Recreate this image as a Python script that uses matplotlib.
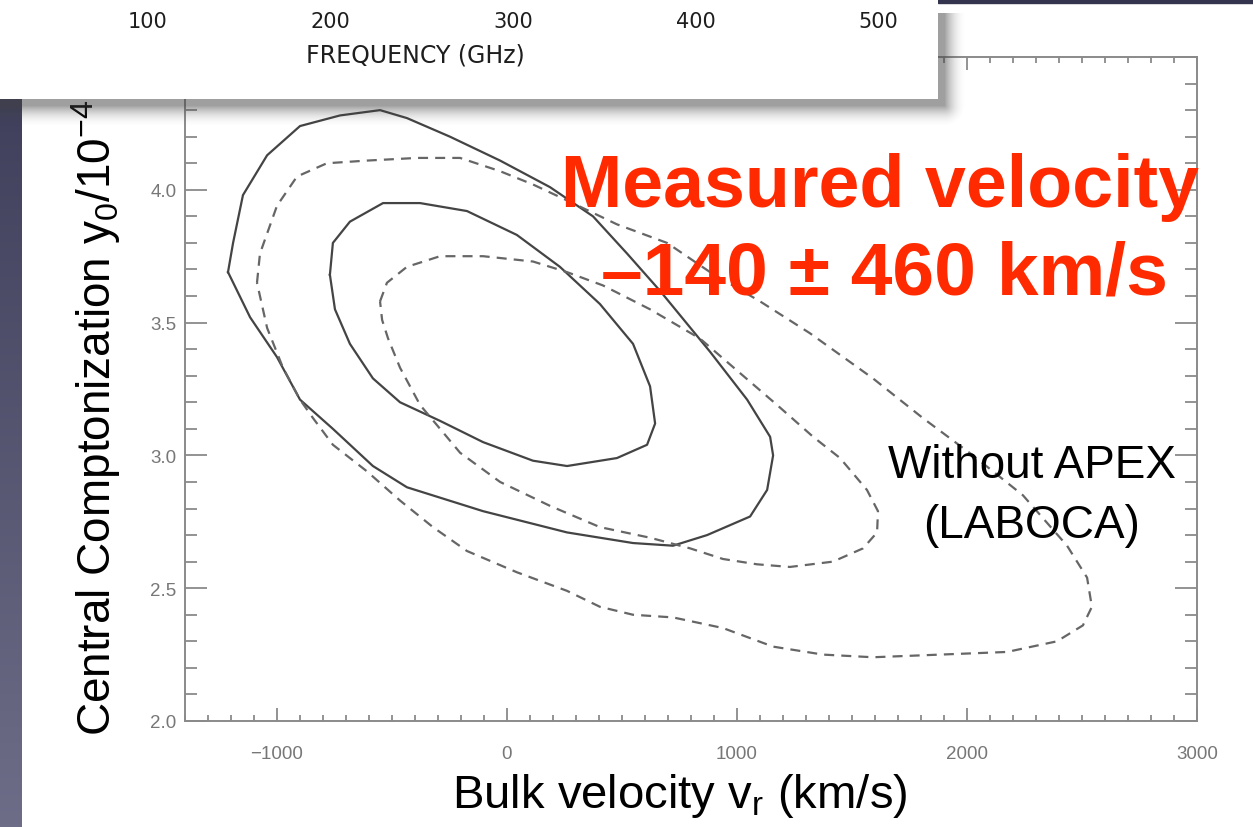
import numpy as np
import matplotlib
matplotlib.use("Agg")
import matplotlib.pyplot as plt
from matplotlib.ticker import MultipleLocator, FormatStrFormatter
from matplotlib.transforms import blended_transform_factory
from matplotlib.patches import Rectangle

plt.rcParams["font.family"] = ["Liberation Sans", "DejaVu Sans"]
plt.rcParams["mathtext.fontset"] = "custom"
plt.rcParams["mathtext.rm"] = "Liberation Sans"
plt.rcParams["mathtext.it"] = "Liberation Sans:italic"
plt.rcParams["mathtext.bf"] = "Liberation Sans:bold"

# contour paths: bulk velocity (km/s), y0 (1e-4)
inner_solid_v = [-770, -757, -683, -539, -378, -174, 43, 230, 404, 548, 622, 644,
                 609, 478, 261, 113, -104, -291, -465, -583, -683, -748]
inner_solid_y = [3.68, 3.80, 3.88, 3.95, 3.95, 3.92, 3.83, 3.71, 3.57, 3.42, 3.26, 3.12,
                 3.04, 2.99, 2.96, 2.98, 3.05, 3.13, 3.20, 3.29, 3.42, 3.55]

outer_solid_v = [-1213, -1191, -1148, -1043, -900, -726, -552, -435, -248, -30, 187, 374,
                 522, 665, 883, 1044, 1144, 1157, 1131, 1057, 870, 722, 548, 261, -104,
                 -435, -583, -757, -900, -1000, -1117]
outer_solid_y = [3.69, 3.80, 3.98, 4.13, 4.24, 4.28, 4.30, 4.27, 4.20, 4.11, 4.01, 3.90,
                 3.76, 3.62, 3.39, 3.21, 3.07, 3.00, 2.87, 2.77, 2.70, 2.66, 2.67, 2.71, 2.79,
                 2.88, 2.96, 3.10, 3.21, 3.37, 3.52]

inner_dash_v = [-552, -522, -435, -291, -104, 113, 261, 417, 622, 839, 1013, 1174, 1331,
                1448, 1565, 1613, 1609, 1548, 1417, 1230, 1087, 939, 796, 622, 404, 187,
                -30, -204, -291, -378, -465, -517, -543]
inner_dash_y = [3.58, 3.65, 3.71, 3.75, 3.75, 3.73, 3.69, 3.64, 3.55, 3.44, 3.31, 3.19, 3.07,
                2.99, 2.87, 2.79, 2.71, 2.65, 2.60, 2.58, 2.59, 2.61, 2.65, 2.69, 2.73, 2.81,
                2.90, 3.01, 3.10, 3.19, 3.33, 3.44, 3.51]

outer_dash_v = [-1087, -1074, -1000, -913, -783, -609, -391, -204, -30, 113, 261, 478, 696,
                883, 1100, 1317, 1591, 1809, 2026, 2243, 2435, 2522, 2543, 2504, 2391, 2174,
                1883, 1591, 1374, 1157, 939, 722, 548, 404, 261, 43, -174, -322, -465, -609,
                -757, -843, -900, -974, -1043]
outer_dash_y = [3.65, 3.76, 3.94, 4.05, 4.10, 4.11, 4.12, 4.12, 4.07, 4.02, 3.96, 3.87, 3.80,
                3.69, 3.58, 3.46, 3.29, 3.14, 3.00, 2.85, 2.66, 2.54, 2.43, 2.36, 2.30, 2.26,
                2.25, 2.24, 2.25, 2.28, 2.35, 2.39, 2.40, 2.43, 2.49, 2.56, 2.64, 2.73, 2.83,
                2.94, 3.04, 3.14, 3.21, 3.33, 3.48]

freq_ticks = [100, 200, 300, 400, 500]

W, H = 1253, 828
fig = plt.figure(figsize=(W / 100, H / 100), dpi=100)
fig.patch.set_facecolor("white")

# slide background strips
strip = fig.add_axes([0, 0, 22 / W, 1], zorder=-1)
grad = np.linspace(0, 1, 256).reshape(-1, 1)
strip.imshow(grad, aspect="auto", cmap=matplotlib.colors.LinearSegmentedColormap.from_list(
    "slide", ["#3a3a56", "#6d6d88"]), extent=[0, 1, 0, 1], origin="upper")
strip.axis("off")
fig.add_artist(Rectangle((938 / W, 1 - 4 / H), 1, 4 / H, transform=fig.transFigure,
                         color="#34344e", zorder=0))

# main contour panel
ax = fig.add_axes([185 / W, (H - 722) / H, 1012 / W, 664 / H], zorder=0)
ax.plot(np.append(outer_solid_v, outer_solid_v[0]), np.append(outer_solid_y, outer_solid_y[0]),
        color="#444444", lw=1.6)
ax.plot(np.append(inner_solid_v, inner_solid_v[0]), np.append(inner_solid_y, inner_solid_y[0]),
        color="#444444", lw=1.6)
ax.plot(np.append(outer_dash_v, outer_dash_v[0]), np.append(outer_dash_y, outer_dash_y[0]),
        color="#666666", lw=1.6, linestyle=(0, (4.5, 3.2)))
ax.plot(np.append(inner_dash_v, inner_dash_v[0]), np.append(inner_dash_y, inner_dash_y[0]),
        color="#666666", lw=1.6, linestyle=(0, (4.5, 3.2)))

ax.set_xlim(-1400, 3000)
ax.set_ylim(2.0, 4.5)
ax.xaxis.set_major_locator(MultipleLocator(1000))
ax.xaxis.set_minor_locator(MultipleLocator(100))
ax.yaxis.set_major_locator(MultipleLocator(0.5))
ax.yaxis.set_minor_locator(MultipleLocator(0.1))
ax.yaxis.set_major_formatter(FormatStrFormatter("%.1f"))
for s in ax.spines.values():
    s.set_color("#8a8a8a")
    s.set_linewidth(1.4)
ax.tick_params(which="both", direction="in", top=True, right=True, color="#808080",
               width=1.2, labelcolor="#777777", labelsize=13.5)
ax.tick_params(axis="x", which="major", length=9.5, pad=17)
ax.tick_params(axis="x", which="minor", length=4.5)
ax.tick_params(axis="y", which="major", length=16, pad=6)
ax.tick_params(axis="y", which="minor", length=8.5)

ax.set_xlabel(r"Bulk velocity v$_\mathrm{r}$ (km/s)", fontsize=34)
ax.xaxis.set_label_coords(0.489, -0.075)
ax.set_ylabel(r"Central Comptonization y$_\mathrm{0}$/10$^\mathrm{-4}$", fontsize=33)
ax.yaxis.set_label_coords(-0.061, 0.458)

# drop shadow of the pasted spectrum strip
sh = fig.add_axes([0, 0, 1, 1], zorder=1)
yy, xx = np.mgrid[0:H, 0:W]
dx = np.clip(xx - 944, 0, None)
dy = np.clip(yy - 106, 0, None)
d = np.hypot(dx, dy)
alpha = 0.5 * np.clip(1 - d / 22, 0, 1) ** 2
alpha[yy < 14] = 0
rgba = np.zeros((H, W, 4))
rgba[..., :3] = 0.25
rgba[..., 3] = alpha
sh.imshow(rgba, extent=[0, 1, 0, 1], aspect="auto", origin="upper")
sh.axis("off")

# pasted frequency axis strip
ins = fig.add_axes([0, 1 - 100 / H, 938 / W, 100 / H], zorder=3)
ins.set_facecolor("white")
ins.set_xlim(100 - 148 / 1.825, 100 + (938 - 148) / 1.825)
ins.set_ylim(0, 1)
for s in ins.spines.values():
    s.set_visible(False)
ins.set_xticks([])
ins.set_yticks([])
tr = blended_transform_factory(ins.transData, ins.transAxes)
for f in freq_ticks:
    ins.text(f, 0.78, str(f), transform=tr, ha="center", va="center",
             fontsize=15, color="#1e1e1e", family="DejaVu Sans")
ins.text(415 / 938, 0.45, "FREQUENCY (GHz)", transform=ins.transAxes, ha="center",
         va="center", fontsize=17, color="#1e1e1e", family="DejaVu Sans")

# slide annotations
fig.text(880 / W, 1 - 207 / H, "Measured velocity", ha="center", va="baseline",
         fontsize=53, fontweight="bold", color="#ff2a00")
fig.text(885 / W, 1 - 295 / H, "\u2013140 \u00b1 460 km/s", ha="center", va="baseline",
         fontsize=54, fontweight="bold", color="#ff2a00")
fig.text(1032 / W, 1 - 478 / H, "Without APEX", ha="center", va="baseline",
         fontsize=33, color="black")
fig.text(1032 / W, 1 - 538 / H, "(LABOCA)", ha="center", va="baseline",
         fontsize=33, color="black")

fig.savefig("out.png", dpi=100)
